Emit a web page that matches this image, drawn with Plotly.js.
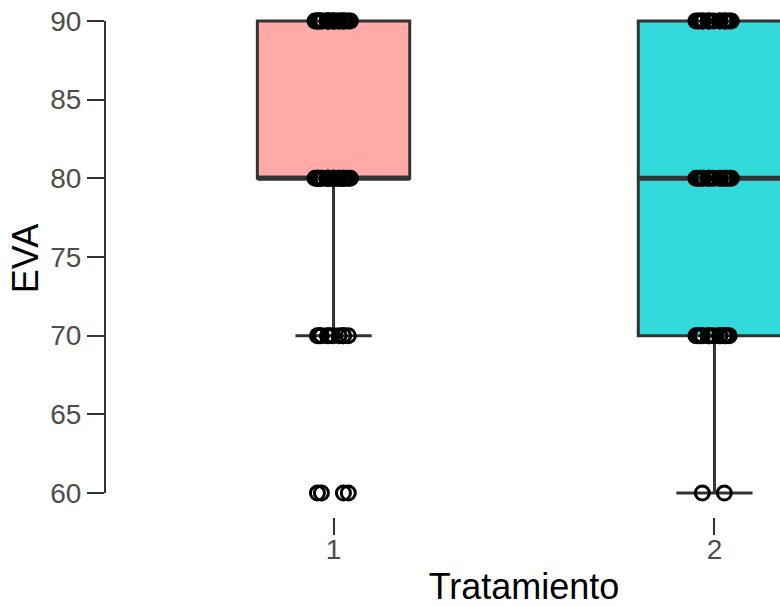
<!DOCTYPE html>
<html>
<head>
<meta charset="utf-8">
<script src="https://cdn.plot.ly/plotly-3.0.1.min.js"></script>
<style>html,body{margin:0;padding:0;background:#fff;overflow:hidden;width:780px;height:607px;}#chart{width:960px;height:607px;}</style>
</head>
<body>
<div id="chart"></div>
<script>
// Data (EVA scores per treatment group)
var groupNames = ["1", "2"];
var groupPos = [1, 2];
var eva1 = [90,90,90,90,90,90,90,90,90,90,90,90,90,90,90,90,90,90,90,90,90,90,90,90,90,
            80,80,80,80,80,80,80,80,80,80,80,80,80,80,80,80,80,80,80,80,80,80,80,80,80,
            70,70,70,70,70,70,70,70,70,70,
            60,60,60,60];
var eva2 = [90,90,90,90,90,90,90,90,90,90,90,90,90,90,90,90,
            80,80,80,80,80,80,80,80,80,80,80,80,80,80,80,80,
            70,70,70,70,70,70,70,70,70,70,70,70,70,70,
            60,60];
var yTicks = [60, 65, 70, 75, 80, 85, 90];
var fills = ["#FFA9A8", "#33DADC"];

// box + whiskers (1.5 IQR); outliers are computed but their own markers are hidden,
// every sample is drawn by the jittered point traces below
function boxTrace(vals, pos, fill) {
  return {
    type: "box",
    y: vals,
    x: vals.map(function(){ return pos; }),
    width: 0.4,
    fillcolor: fill,
    line: {color: "#333333", width: 3},
    whiskerwidth: 0.5,
    boxpoints: "outliers",
    marker: {opacity: 0, size: 1},
    hoverinfo: "skip",
    showlegend: false
  };
}

function median(vals) {
  var s = vals.slice().sort(function(a, b){ return a - b; });
  var m = Math.floor(s.length / 2);
  return s.length % 2 ? s[m] : (s[m - 1] + s[m]) / 2;
}

// thicker median bar (degenerate box at the median value)
function medianTrace(vals, pos) {
  return {
    type: "box",
    y: [median(vals)],
    x: [pos],
    width: 0.4,
    fillcolor: "rgba(0,0,0,0)",
    line: {color: "#333333", width: 5},
    whiskerwidth: 0,
    boxpoints: false,
    hoverinfo: "skip",
    showlegend: false
  };
}

// jittered sample points: one point-only box trace per distinct value
function pointTraces(vals, pos) {
  var levels = vals.filter(function(v, i){ return vals.indexOf(v) === i; });
  return levels.map(function(lv){
    var sub = vals.filter(function(v){ return v === lv; });
    return {
      type: "box",
      y: sub,
      x: sub.map(function(){ return pos; }),
      width: 0.4,
      fillcolor: "rgba(0,0,0,0)",
      line: {color: "rgba(0,0,0,0)", width: 0},
      boxpoints: "all",
      jitter: 0.25,
      pointpos: 0,
      marker: {symbol: "circle-open", color: "#000000", size: 14, line: {width: 3, color: "#000000"}},
      hoverinfo: "skip",
      showlegend: false
    };
  });
}

var data = [
  boxTrace(eva1, groupPos[0], fills[0]),
  boxTrace(eva2, groupPos[1], fills[1]),
  medianTrace(eva1, groupPos[0]),
  medianTrace(eva2, groupPos[1])
].concat(pointTraces(eva1, groupPos[0]), pointTraces(eva2, groupPos[1]));

var font = "'Liberation Sans', Arial, sans-serif";
var layout = {
  width: 960, height: 607,
  margin: {l: 105, r: 17, t: 0, b: 90, pad: 0},
  paper_bgcolor: "#ffffff",
  plot_bgcolor: "#ffffff",
  boxmode: "overlay",
  showlegend: false,
  font: {family: font},
  xaxis: {
    range: [0.4, 2.6],
    tickvals: groupPos,
    ticktext: groupNames,
    showline: false, showgrid: false, zeroline: false,
    ticks: "outside", ticklen: 17, tickwidth: 2, tickcolor: "#333333",
    ticklabelstandoff: -10,
    tickfont: {size: 28, color: "#4D4D4D", family: font},
    title: {text: "Tratamiento", font: {size: 36, color: "#000000", family: font}, standoff: 12}
  },
  yaxis: {
    range: [58.475, 91.335],
    tickvals: yTicks,
    showline: false, showgrid: false, zeroline: false,
    ticks: "outside", ticklen: 17, tickwidth: 2, tickcolor: "#333333",
    tickfont: {size: 28, color: "#4D4D4D", family: font},
    title: {text: "EVA", font: {size: 36, color: "#000000", family: font}, standoff: 0}
  },
  shapes: [{
    type: "line", xref: "paper", yref: "y",
    x0: 0, x1: 0,
    y0: Math.min.apply(null, yTicks), y1: Math.max.apply(null, yTicks),
    line: {color: "#333333", width: 2}
  }]
};

Plotly.newPlot("chart", data, layout, {displayModeBar: false, staticPlot: true});
</script>
</body>
</html>
